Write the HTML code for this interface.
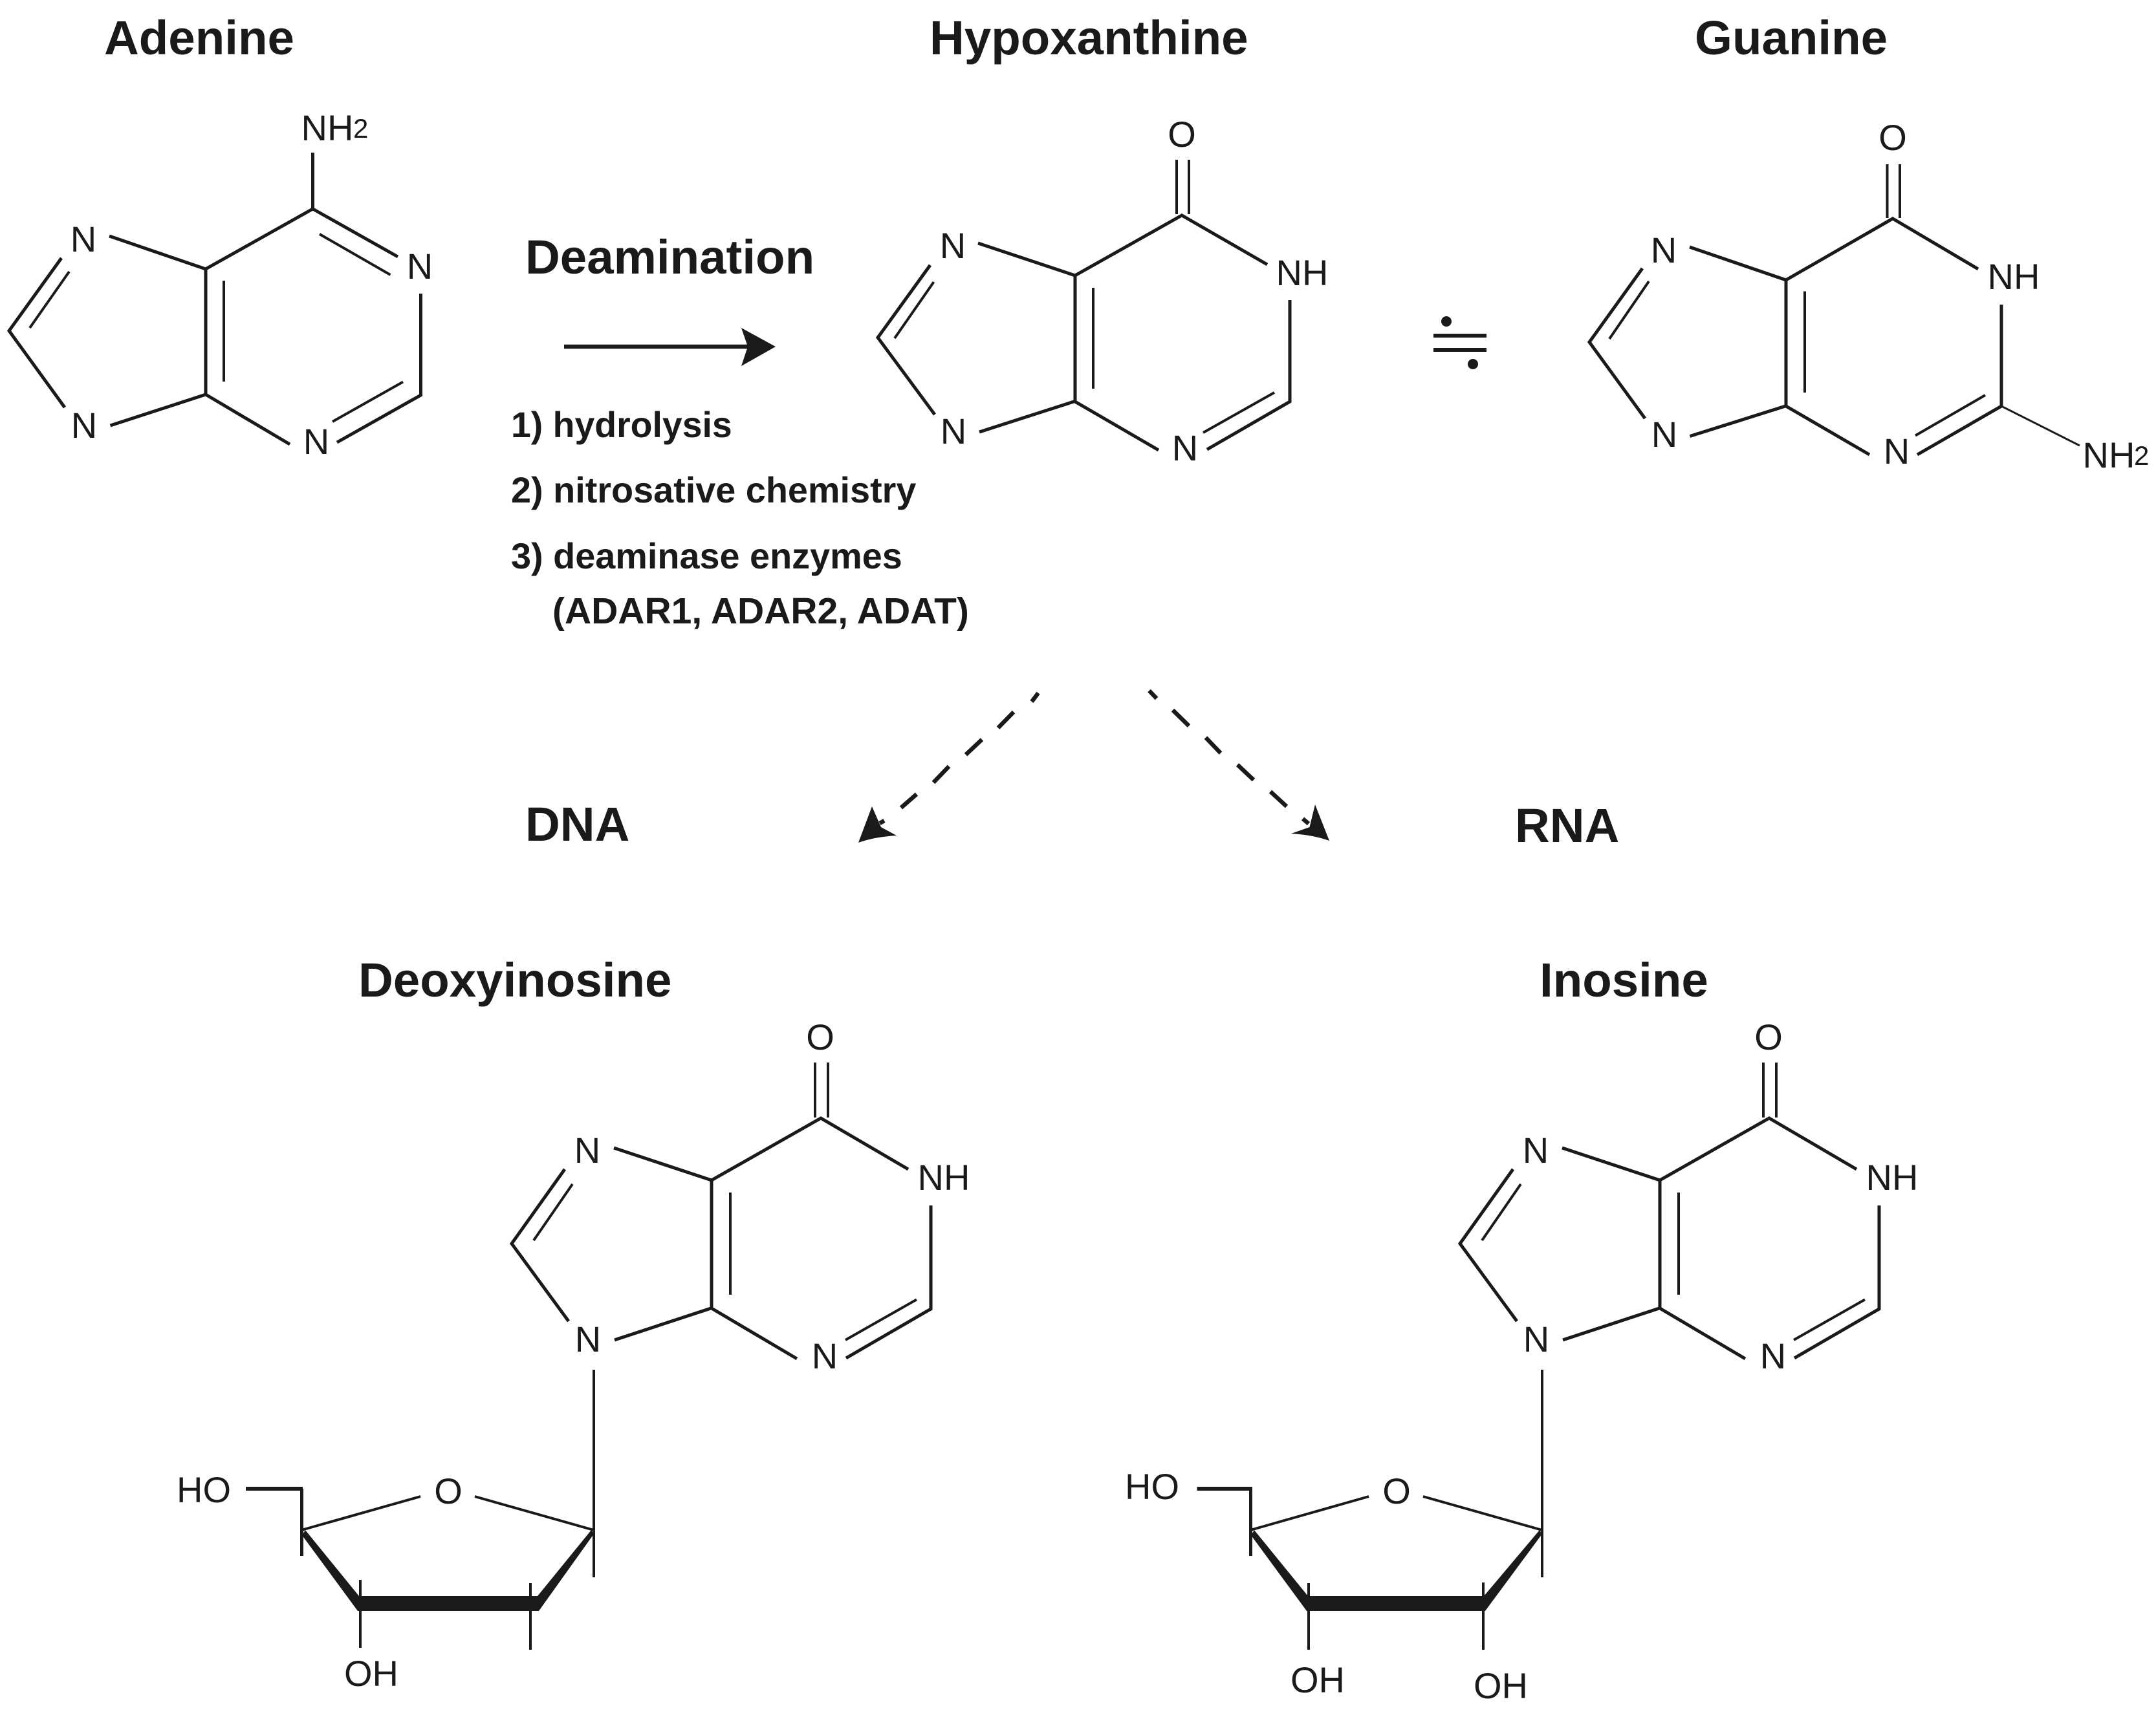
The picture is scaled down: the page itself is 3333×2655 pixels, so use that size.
<!DOCTYPE html>
<html>
<head>
<meta charset="utf-8">
<title>Deamination of adenine to hypoxanthine</title>
<style>
html,body{margin:0;padding:0;background:#fff;width:3333px;height:2655px;overflow:hidden}
svg{display:block}
text{font-family:"Liberation Sans",Arial,sans-serif;fill:#1a1a1a}
.t{font-weight:700;font-size:74.5px}
.l{font-weight:700;font-size:55.8px}
.a{font-size:56px;text-anchor:middle}
.s{font-size:42px}
.b{stroke:#1a1a1a;stroke-width:5;fill:none;stroke-linecap:butt;stroke-linejoin:miter}
.i{stroke:#1a1a1a;stroke-width:4;fill:none}
.h{stroke:#1a1a1a;stroke-width:6;fill:none}
.d{stroke:#1a1a1a;stroke-width:6.5;fill:none}
.f{fill:#1a1a1a;stroke:none}
</style>
</head>
<body>
<svg xmlns="http://www.w3.org/2000/svg" width="3333" height="2655" viewBox="0 0 3333 2655">
<rect width="3333" height="2655" fill="#fff"/>

<!-- Titles -->
<text class="t" x="161" y="84">Adenine</text>
<text class="t" x="1437" y="84">Hypoxanthine</text>
<text class="t" x="2620" y="84">Guanine</text>
<text class="t" x="812" y="423">Deamination</text>
<text class="t" x="812" y="1300">DNA</text>
<text class="t" x="2342" y="1302">RNA</text>
<text class="t" x="554" y="1541">Deoxyinosine</text>
<text class="t" x="2380" y="1541">Inosine</text>

<!-- Reaction list -->
<text class="l" x="790" y="676" style="font-size:55.4px">1) hydrolysis</text>
<text class="l" x="790" y="777">2) nitrosative chemistry</text>
<text class="l" x="790" y="879">3) deaminase enzymes</text>
<text class="l" x="854" y="964" style="font-size:57px">(ADAR1, ADAR2, ADAT)</text>

<!-- Deamination arrow -->
<line class="h" x1="872" y1="536" x2="1160" y2="536" style="stroke-width:6.5"/>
<path class="f" d="M1199 536L1146 507L1156 536L1146 566Z"/>

<!-- Adenine -->
<g>
<path class="b" d="M483.5 236V323L318 416V610L448 687"/>
<path class="b" d="M483.5 323L615 397"/>
<path class="i" d="M494 362L603.5 425"/>
<path class="b" d="M650.5 454V611L521 684"/>
<path class="i" d="M623 590.5L514 652"/>
<path class="i" d="M346 434V590"/>
<path class="b" d="M318 416L169 365"/>
<path class="b" d="M318 610L170.5 658"/>
<path class="b" d="M95 399L14 511.5L100 630"/>
<path class="i" d="M46 507L107 420"/>
<text class="a" x="129" y="389">N</text>
<text class="a" x="130" y="677">N</text>
<text class="a" x="489" y="702">N</text>
<text class="a" x="649" y="431">N</text>
<text class="a" x="506" y="217">NH</text>
<text class="s" x="546" y="213">2</text>
</g>

<!-- Hypoxanthine -->
<g>
<path class="i" d="M1819 247V331M1838 247V331"/>
<path class="b" d="M1959 409L1827 333L1662 426V621L1791 696"/>
<path class="b" d="M1994 464V621L1866 695"/>
<path class="i" d="M1970 607L1860 669"/>
<path class="i" d="M1690 445V601"/>
<path class="b" d="M1662 426L1512 376"/>
<path class="b" d="M1660 621L1514 668"/>
<path class="b" d="M1438 410L1357 522L1445 641"/>
<path class="i" d="M1383 523L1443.5 436"/>
<text class="a" x="1473" y="399">N</text>
<text class="a" x="1474" y="686">N</text>
<text class="a" x="1832" y="712">N</text>
<text class="a" x="2013" y="441">NH</text>
<text class="a" x="1827" y="227">O</text>
</g>

<!-- Not-equal-like symbol -->
<path class="h" d="M2216 519H2298M2216 541H2298"/>
<circle class="f" cx="2236" cy="497" r="8"/>
<circle class="f" cx="2277" cy="563" r="8"/>

<!-- Guanine -->
<g>
<path class="i" d="M2917.5 254V337M2937 254V337"/>
<path class="b" d="M3058 416L2926 338L2761 433V628L2890 703"/>
<path class="b" d="M3094 471V628L2964 703"/>
<path class="i" d="M3069 611L2961 673.5"/>
<path class="i" d="M2790 450.5V607"/>
<path class="b" d="M2761 433L2612 382"/>
<path class="b" d="M2760 628L2612.5 674.5"/>
<path class="b" d="M2539 415L2457 529L2543 647"/>
<path class="i" d="M2488 524L2549 435"/>
<path class="i" d="M3094 628L3215 689" style="stroke-width:3"/>
<text class="a" x="2572" y="406">N</text>
<text class="a" x="2573" y="691">N</text>
<text class="a" x="2932" y="717">N</text>
<text class="a" x="3113" y="447">NH</text>
<text class="a" x="2926" y="232">O</text>
<text class="a" x="3260" y="723">NH</text>
<text class="s" x="3299" y="719">2</text>
</g>

<!-- Dashed arrows -->
<path class="d" d="M1605 1071.6L1595 1085M1567 1101L1543 1125.5M1518 1143.5L1493 1167M1467 1185L1443 1210M1417 1228L1393 1249M1367 1269L1360 1273"/>
<path class="f" d="M1327 1303L1348 1247L1362 1279L1386 1292Q1352 1294 1327 1303Z"/>
<path class="d" d="M1776.5 1068L1788 1080M1813 1098L1838 1122.5M1864 1140.5L1887 1164.5M1913 1182.5L1938 1206M1964 1224L1989 1247M2014 1266L2023 1273.6"/>
<path class="f" d="M2055 1300L2033 1244L2024.5 1279L1996 1289Q2030 1291 2055 1300Z"/>

<!-- Deoxyinosine base -->
<g>
<path class="i" d="M1260 1643V1728M1280 1643V1728"/>
<path class="b" d="M1404 1808L1269 1729L1100 1825V2023L1232 2101"/>
<path class="b" d="M1439 1864V2024L1308 2100"/>
<path class="i" d="M1417 2009.5L1307 2072"/>
<path class="i" d="M1129 1844V2002"/>
<path class="b" d="M1100 1825L949 1775"/>
<path class="b" d="M1099 2023L950 2072"/>
<path class="b" d="M873 1808L791 1923L879 2043"/>
<path class="i" d="M825 1918L885 1831"/>
<text class="a" x="908" y="1798">N</text>
<text class="a" x="909" y="2090">N</text>
<text class="a" x="1275" y="2116">N</text>
<text class="a" x="1459" y="1840">NH</text>
<text class="a" x="1268" y="1623">O</text>
</g>
<!-- Deoxyinosine sugar -->
<g>
<path class="i" d="M918 2118V2439"/>
<path class="h" d="M380 2302H468"/>
<path class="b" d="M466.5 2302V2406"/>
<path class="i" d="M466 2366L650 2314M918 2366L734 2314"/>
<path class="f" d="M467 2374L472 2366L555 2468H831L914 2366L918 2372L833 2491H553Z"/>
<path class="i" d="M557 2443V2548M820 2448V2551"/>
<text class="a" x="315" y="2323">HO</text>
<text class="a" x="693" y="2325">O</text>
<text class="a" x="574" y="2607">OH</text>
</g>

<!-- Inosine base -->
<g transform="translate(1466 0)">
<path class="i" d="M1260 1643V1728M1280 1643V1728"/>
<path class="b" d="M1404 1808L1269 1729L1100 1825V2023L1232 2101"/>
<path class="b" d="M1439 1864V2024L1308 2100"/>
<path class="i" d="M1417 2009.5L1307 2072"/>
<path class="i" d="M1129 1844V2002"/>
<path class="b" d="M1100 1825L949 1775"/>
<path class="b" d="M1099 2023L950 2072"/>
<path class="b" d="M873 1808L791 1923L879 2043"/>
<path class="i" d="M825 1918L885 1831"/>
<text class="a" x="908" y="1798">N</text>
<text class="a" x="909" y="2090">N</text>
<text class="a" x="1275" y="2116">N</text>
<text class="a" x="1459" y="1840">NH</text>
<text class="a" x="1268" y="1623">O</text>
</g>
<!-- Inosine sugar -->
<g>
<path class="i" d="M2384 2118V2439"/>
<path class="h" d="M1850.5 2302H1936"/>
<path class="b" d="M1933.5 2302V2406"/>
<path class="i" d="M1933 2366L2116 2314M2384 2366L2200 2314"/>
<path class="f" d="M1934 2374L1939 2366L2022 2468H2294L2380 2366L2384 2372L2296 2491H2020Z"/>
<path class="i" d="M2023 2448V2551M2293 2447V2551"/>
<text class="a" x="1781" y="2318">HO</text>
<text class="a" x="2159" y="2325">O</text>
<text class="a" x="2037" y="2617">OH</text>
<text class="a" x="2320" y="2626">OH</text>
</g>
</svg>
</body>
</html>
